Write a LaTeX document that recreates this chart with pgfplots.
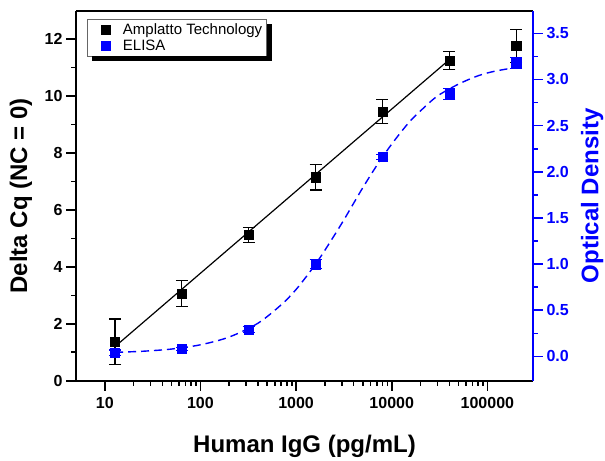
\documentclass[border=0pt]{standalone}
\usepackage{fontspec}
\setmainfont{Liberation Sans}
\usepackage{pgfplots}
\usepackage{pgfplotstable}
\pgfplotsset{compat=1.18}
\pgfkeys{/pgf/number format/assume math mode=true}

% Amplatto: delta Cq with error
\pgfplotstableread{
x       y     err
12.8    1.37  0.80
64      3.07  0.45
320     5.12  0.26
1600    7.15  0.45
8000    9.46  0.43
40000   11.24 0.32
200000  11.77 0.58
}\amplatto

% ELISA: optical density with error
\pgfplotstableread{
x       y     err
12.8    0.04  0.03
64      0.08  0.02
320     0.29  0.03
1600    1.00  0.05
8000    2.16  0.03
40000   2.84  0.06
200000  3.18  0.06
}\elisa

% ELISA fitted curve
\pgfplotstableread{
x       y
12.8    0.044
25      0.056
50      0.080
100     0.126
200     0.21
400     0.36
700     0.56
1000    0.725
1500    0.96
2000    1.15
3000    1.44
4000    1.66
5000    1.83
7000    2.07
10000   2.30
15000   2.53
20000   2.66
30000   2.82
50000   2.95
80000   3.04
120000  3.09
200000  3.13
}\elisafit

\begin{document}
\begin{tikzpicture}
\begin{axis}[name=ax,
  width=457pt, height=370pt, scale only axis,
  xmode=log, xmin=5, xmax=3e5,
  tick align=outside,
  major tick length=10pt, minor tick length=5pt,
  ticklabel style={font=\fontsize{16}{19}\selectfont\bfseries},
  xticklabel style={yshift=-3pt},
  axis y line*=left, xtick pos=left,
  ymin=0, ymax=13, ytick={0,2,...,12}, minor y tick num=1,
  xtick={10,100,1000,10000,100000},
  xticklabels={10,100,1000,10000,100000},
  axis line style={line width=2pt},
  tick style={black, line width=1.6pt},
  xlabel={Human IgG (pg/mL)},
  ylabel={Delta Cq (NC = 0)},
  every axis x label/.style={at={(rel axis cs:0.5,0)}, anchor=base, yshift=-72pt,
    font=\fontsize{24}{28}\selectfont\bfseries},
  every axis y label/.style={at={(rel axis cs:-0.1072,0.5)}, rotate=90, anchor=base,
    font=\fontsize{24}{28}\selectfont\bfseries},
]
  \addplot[black, line width=1.2pt, no marks] coordinates {(12.8,1.20) (40000,11.28)};
  \addplot[black, only marks, mark=square*, mark size=4.6pt,
    error bars/.cd, y dir=both, y explicit,
    error bar style={line width=1.2pt},
    error mark options={rotate=90, mark size=6pt, line width=1.2pt}]
    table[x=x, y=y, y error=err] {\amplatto};
\end{axis}

\begin{axis}[
  width=457pt, height=370pt, scale only axis,
  xmode=log, xmin=5, xmax=3e5,
  tick align=outside,
  major tick length=10pt, minor tick length=5pt,
  ticklabel style={font=\fontsize{16}{19}\selectfont\bfseries},
  axis y line*=right, axis x line=none,
  ymin=-0.263, ymax=3.745, ytick={0,0.5,...,3.5}, minor y tick num=1,
  y axis line style={blue, line width=2pt},
  ytick style={blue, line width=1.6pt},
  yticklabel style={blue},
  y tick label style={/pgf/number format/fixed, /pgf/number format/fixed zerofill, /pgf/number format/precision=1},
  ylabel={Optical Density},
  every axis y label/.style={at={(rel axis cs:1.143,0.5)}, rotate=90, anchor=base, text=blue,
    font=\fontsize{24}{28}\selectfont\bfseries},
  legend cell align=left,
  legend image code/.code={\path[draw=none] (0cm,0cm) -- (1.12cm,0cm);
    \draw[#1, only marks] plot coordinates {(0.6cm,0cm)};},
  legend style={name=leg, at={(rel axis cs:0,1)}, anchor=north west, xshift=10.7pt, yshift=-8.6pt,
    draw=black!60, line width=0.8pt, fill=white,
    font=\fontsize{15}{16}\selectfont, row sep=0pt, inner sep=2pt},
]
  \addlegendimage{black, only marks, mark=square*, mark size=4.5pt}
  \addlegendentry{Amplatto Technology}
  \addplot[blue, line width=1.4pt, dash pattern=on 8pt off 5pt, smooth, no marks, forget plot]
    table[x=x, y=y] {\elisafit};
  \addplot[blue, only marks, mark=square*, mark size=4.6pt,
    error bars/.cd, y dir=both, y explicit,
    error bar style={line width=1.2pt, blue},
    error mark options={rotate=90, mark size=6pt, line width=1.2pt, blue}]
    table[x=x, y=y, y error=err] {\elisa};
  \addlegendentry{ELISA}
\end{axis}
% legend drop shadow
\fill[black] ([yshift=-5pt]leg.north east) rectangle ([xshift=5pt,yshift=-5pt]leg.south east);
\fill[black] ([xshift=5pt]leg.south west) rectangle ([xshift=5pt,yshift=-5pt]leg.south east);
\pgfresetboundingbox
\path[use as bounding box] ([xshift=-76pt,yshift=-80pt]ax.south west) rectangle ([xshift=72pt,yshift=10.7pt]ax.north east);
\end{tikzpicture}
\end{document}
